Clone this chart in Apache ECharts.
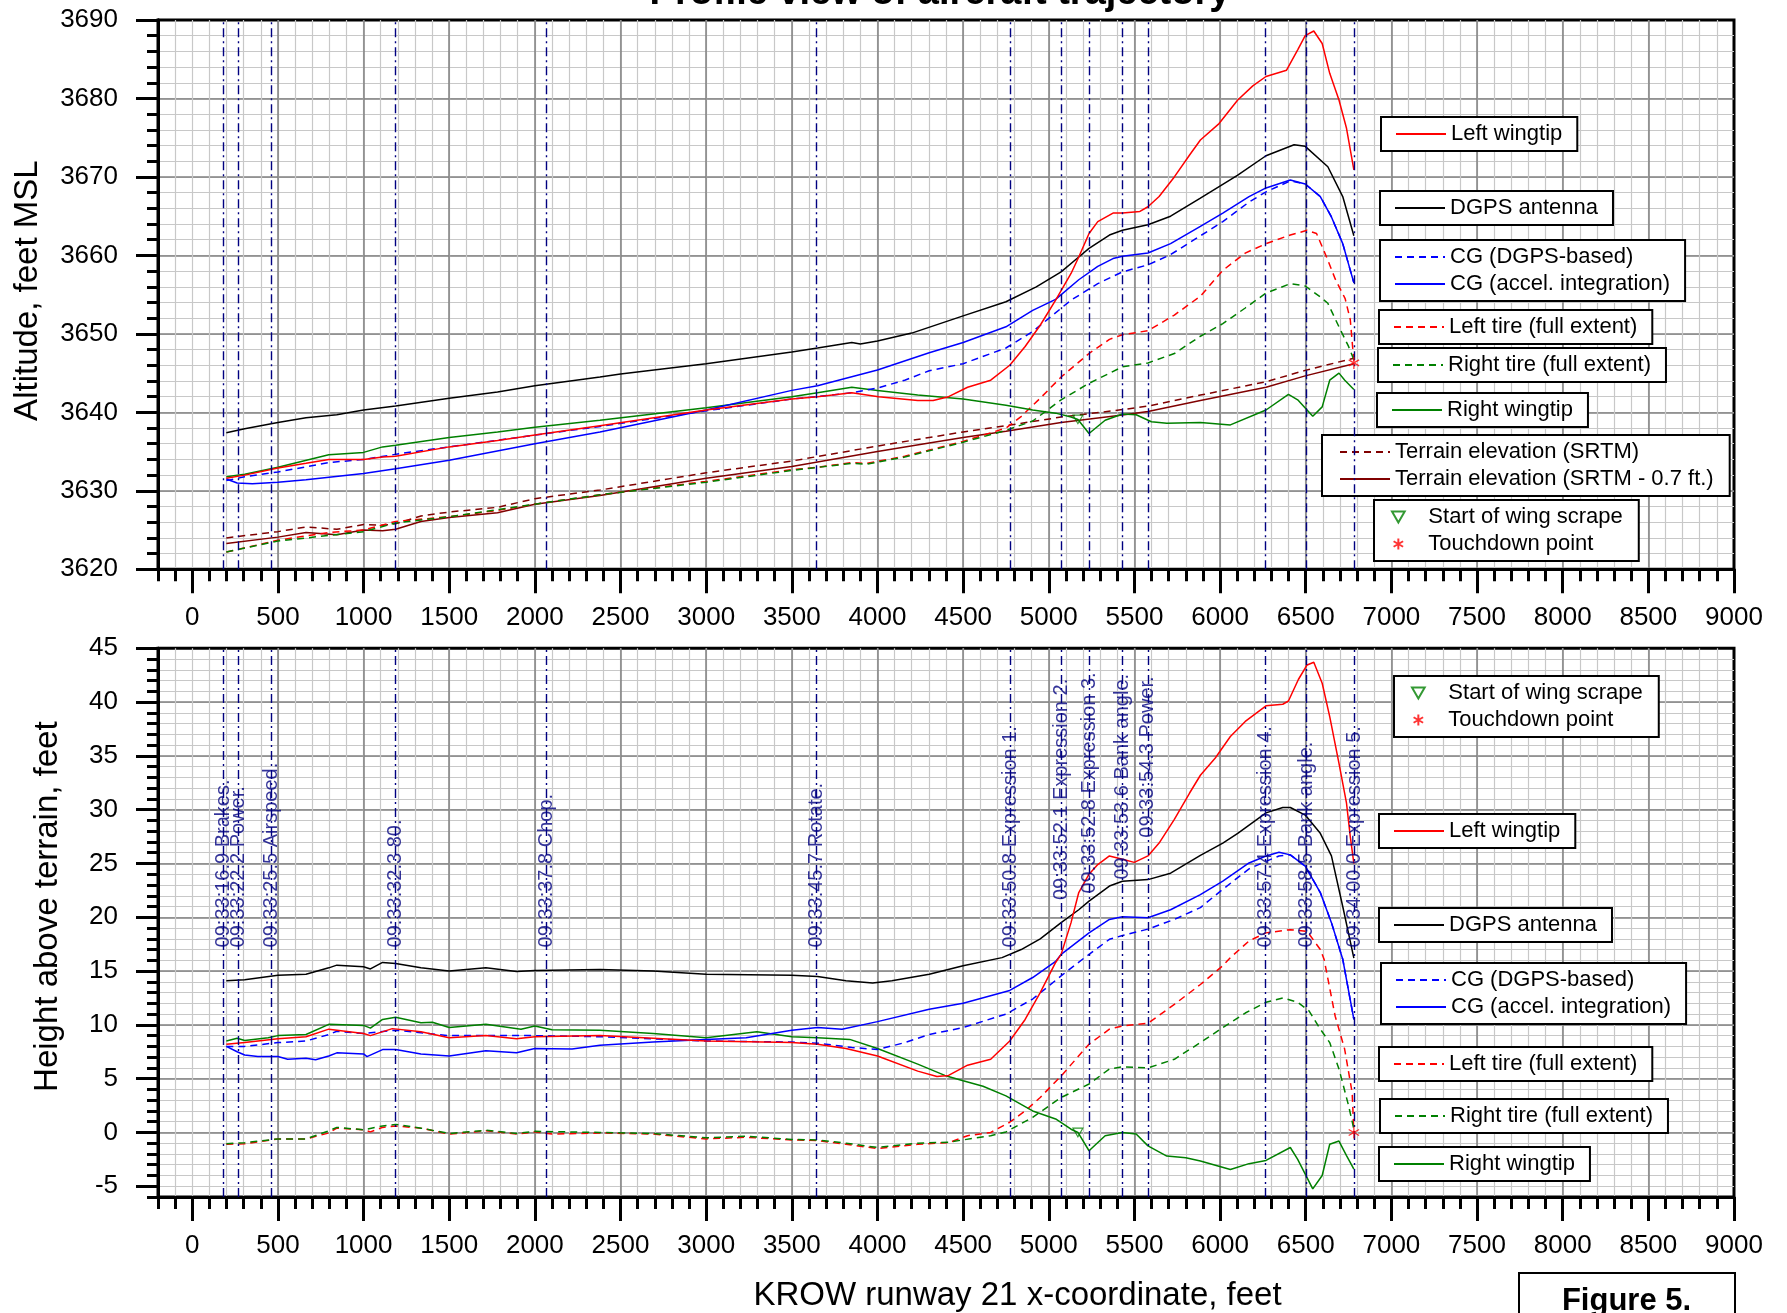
<!DOCTYPE html>
<html>
<head>
<meta charset="utf-8">
<title>Profile view of aircraft trajectory</title>
<script src="https://cdn.jsdelivr.net/npm/echarts@6/dist/echarts.min.js"></script>
<style>
  html, body { margin: 0; padding: 0; background: #fff; }
  #chart { width: 1787px; height: 1313px; }
</style>
</head>
<body>
<div id="chart"></div>
<script>
// ---------- tick values ----------
const xMajorTicks = [0, 500, 1000, 1500, 2000, 2500, 3000, 3500, 4000, 4500, 5000, 5500, 6000, 6500, 7000, 7500, 8000, 8500, 9000];
const heightMajorTicks = [-5, 0, 5, 10, 15, 20, 25, 30, 35, 40, 45];

// ---------- upper panel: altitude, feet MSL  ([x-coordinate ft, altitude ft]) ----------
const topLeftWingtip = [[199,3631.6],[306,3632.0],[500,3632.9],[664,3633.5],[797,3634.0],[1000,3634.0],[1111,3634.3],[1187,3634.4],[1500,3635.6],[1782,3636.4],[2000,3637.1],[2380,3638.3],[3000,3640.3],[3500,3641.7],[3650,3642.0],[3850,3642.5],[4006,3642.0],[4235,3641.5],[4325,3641.5],[4415,3642.0],[4526,3643.2],[4661,3644.1],[4772,3646.0],[4862,3648.4],[4950,3651.1],[5040,3654.3],[5130,3657.7],[5175,3659.8],[5235,3662.8],[5286,3664.3],[5375,3665.4],[5430,3665.4],[5532,3665.6],[5579,3666.2],[5644,3667.5],[5733,3670.0],[5822,3672.8],[5885,3674.7],[5994,3676.8],[6103,3679.8],[6191,3681.6],[6268,3682.8],[6388,3683.6],[6453,3686.2],[6497,3688.0],[6547,3688.6],[6596,3687.0],[6640,3683.2],[6694,3679.8],[6738,3676.2],[6781,3670.9]];
const topDgps = [[199,3637.4],[306,3637.9],[500,3638.7],[664,3639.3],[844,3639.7],[1000,3640.3],[1187,3640.8],[1500,3641.8],[1782,3642.6],[2000,3643.4],[2380,3644.5],[2500,3644.9],[3000,3646.2],[3500,3647.7],[3650,3648.2],[3850,3648.9],[3900,3648.7],[4000,3649.1],[4200,3650.1],[4500,3652.3],[4750,3654.1],[4927,3656.0],[5072,3657.9],[5175,3659.8],[5235,3660.9],[5354,3662.6],[5430,3663.2],[5579,3663.9],[5711,3665.0],[5885,3667.3],[6101,3670.2],[6268,3672.7],[6432,3674.1],[6497,3673.9],[6629,3671.3],[6716,3667.5],[6781,3662.5]];
const topCgDgps = [[199,3631.3],[306,3631.8],[500,3632.4],[797,3633.6],[1000,3634.0],[1230,3634.8],[1500,3635.6],[2000,3637.1],[2380,3638.2],[3000,3640.2],[3500,3641.7],[3650,3642.0],[3850,3642.5],[4000,3643.1],[4159,3644.1],[4302,3645.3],[4500,3646.2],[4750,3648.2],[4906,3650.3],[5130,3654.3],[5286,3656.4],[5430,3657.9],[5579,3658.8],[5711,3660.1],[5885,3662.5],[6016,3664.3],[6169,3666.8],[6268,3668.1],[6410,3669.5],[6497,3669.1],[6585,3667.5],[6650,3664.9],[6716,3661.5],[6781,3656.5]];
const topCgAccel = [[199,3631.5],[262,3631.0],[351,3630.9],[500,3631.1],[664,3631.4],[1000,3632.2],[1187,3632.8],[1500,3633.9],[2000,3636.0],[2380,3637.5],[3000,3640.3],[3500,3642.8],[3650,3643.4],[4000,3645.4],[4302,3647.6],[4500,3648.9],[4750,3650.9],[4906,3653.0],[5040,3654.4],[5175,3656.9],[5286,3658.6],[5375,3659.6],[5430,3659.9],[5579,3660.3],[5711,3661.5],[5885,3663.7],[6016,3665.4],[6169,3667.5],[6268,3668.6],[6410,3669.6],[6497,3669.1],[6585,3667.5],[6650,3664.9],[6716,3661.5],[6781,3656.5]];
const topLeftTire = [[199,3622.2],[500,3623.7],[797,3624.7],[1000,3625.0],[1187,3626.1],[1500,3626.7],[1782,3627.5],[2000,3628.3],[2380,3629.5],[3000,3631.2],[3500,3632.7],[3650,3633.0],[3850,3633.6],[3938,3633.5],[4159,3634.4],[4302,3635.2],[4500,3636.3],[4750,3638.0],[4840,3639.5],[4950,3641.8],[5072,3644.5],[5235,3647.5],[5354,3649.3],[5430,3649.9],[5579,3650.4],[5733,3652.4],[5885,3654.8],[6016,3658.1],[6147,3660.3],[6268,3661.5],[6410,3662.6],[6508,3663.2],[6563,3662.8],[6629,3659.4],[6672,3657.0],[6730,3654.5],[6760,3651.8],[6781,3646.5]];
const topRightTire = [[199,3622.2],[500,3623.6],[1000,3624.8],[1187,3625.9],[1500,3626.7],[2000,3628.3],[2380,3629.5],[3000,3631.1],[3500,3632.6],[3850,3633.5],[3938,3633.4],[4159,3634.3],[4500,3636.2],[4750,3637.7],[4906,3638.9],[5072,3641.6],[5235,3643.7],[5430,3645.8],[5579,3646.3],[5733,3647.5],[5885,3649.7],[6016,3651.3],[6147,3653.3],[6268,3655.2],[6410,3656.4],[6497,3656.1],[6585,3654.7],[6629,3653.9],[6694,3650.9],[6750,3648.4],[6781,3646.7]];
const topRightWingtip = [[199,3631.8],[306,3632.1],[500,3633.0],[797,3634.6],[1000,3634.9],[1111,3635.6],[1187,3635.8],[1500,3636.8],[1782,3637.5],[2000,3638.1],[2380,3639.0],[3000,3640.6],[3500,3642.0],[3650,3642.5],[3850,3643.2],[4000,3642.8],[4235,3642.2],[4500,3641.7],[4750,3640.9],[4906,3640.3],[5040,3639.9],[5130,3639.4],[5170,3639.1],[5235,3637.3],[5329,3639.0],[5430,3639.8],[5510,3639.7],[5599,3638.8],[5689,3638.6],[5885,3638.7],[6060,3638.4],[6268,3640.3],[6399,3642.3],[6453,3641.6],[6541,3639.5],[6596,3640.7],[6640,3644.1],[6694,3645.0],[6728,3644.1],[6781,3642.9]];
const topTerrain = [[199,3624.0],[500,3624.8],[664,3625.4],[844,3625.1],[1000,3625.7],[1111,3625.6],[1187,3625.8],[1335,3626.8],[1500,3627.3],[1782,3627.9],[2000,3629.0],[2380,3630.1],[3000,3632.3],[3500,3633.8],[4000,3635.7],[4302,3636.8],[4500,3637.5],[4750,3638.3],[5072,3639.4],[5430,3640.35],[5579,3640.8],[5885,3642.2],[6268,3643.9],[6497,3645.35],[6781,3646.9]];
const topTerrainLow = [[199,3623.3],[500,3624.1],[664,3624.7],[844,3624.4],[1000,3625.0],[1111,3624.9],[1187,3625.1],[1335,3626.1],[1500,3626.6],[1782,3627.2],[2000,3628.3],[2380,3629.4],[3000,3631.6],[3500,3633.1],[4000,3635.0],[4302,3636.1],[4500,3636.8],[4750,3637.6],[5072,3638.7],[5430,3639.65],[5579,3640.1],[5885,3641.5],[6268,3643.2],[6497,3644.65],[6781,3646.2]];
const topScrape = [[5170, 3639.1]];
const topTouchdown = [[6781, 3646.3]];

// ---------- lower panel: height above terrain, feet ----------
const botLeftWingtip = [[199,8.2],[306,8.35],[500,8.7],[664,8.9],[797,9.6],[1000,9.2],[1040,9.0],[1168,9.65],[1335,9.35],[1500,8.8],[1714,9.0],[1893,8.7],[2000,8.9],[2380,9.0],[3000,8.5],[3500,8.35],[3650,8.2],[3816,7.8],[4000,7.1],[4235,5.7],[4347,5.2],[4415,5.3],[4526,6.25],[4661,6.8],[4772,8.5],[4862,10.5],[4950,13.0],[5040,15.8],[5072,16.55],[5130,19.5],[5175,22.3],[5235,24.0],[5286,24.9],[5354,25.7],[5430,25.4],[5499,25.1],[5579,25.7],[5644,26.9],[5733,29.1],[5822,31.55],[5885,33.2],[5972,34.8],[6060,36.8],[6147,38.2],[6268,39.65],[6366,39.8],[6399,40.1],[6457,42.1],[6508,43.45],[6547,43.7],[6596,41.75],[6640,38.65],[6694,34.3],[6738,30.6],[6760,27.5],[6781,25.0]];
const botDgps = [[199,14.1],[306,14.2],[500,14.6],[664,14.7],[797,15.3],[844,15.55],[1000,15.4],[1040,15.2],[1111,15.8],[1187,15.7],[1335,15.3],[1500,15.0],[1714,15.3],[1893,14.95],[2000,15.05],[2380,15.15],[2690,15.0],[3000,14.7],[3500,14.6],[3650,14.5],[3816,14.1],[3972,13.9],[4084,14.1],[4302,14.7],[4500,15.5],[4727,16.25],[4839,17.0],[4950,18.0],[5072,19.5],[5175,20.7],[5235,21.5],[5354,22.9],[5430,23.35],[5579,23.5],[5711,24.1],[5885,25.75],[6016,26.9],[6103,27.8],[6268,29.7],[6366,30.2],[6410,30.2],[6497,29.5],[6585,27.8],[6650,25.7],[6716,21.0],[6781,16.2]];
const botCgDgps = [[199,8.0],[306,8.0],[500,8.35],[664,8.5],[797,9.1],[844,9.4],[1000,9.2],[1187,9.5],[1500,9.0],[2000,9.0],[2380,8.9],[3000,8.5],[3500,8.4],[3650,8.3],[3850,7.9],[4000,7.7],[4159,8.35],[4302,9.1],[4500,9.75],[4750,11.0],[4906,12.4],[5072,14.55],[5197,16.1],[5235,16.55],[5354,17.95],[5430,18.3],[5579,18.9],[5733,19.8],[5885,20.9],[6016,22.6],[6169,24.5],[6268,25.2],[6344,25.7],[6410,25.8],[6497,24.75],[6585,22.3],[6650,19.5],[6716,16.1],[6738,14.2],[6781,10.5]];
const botCgAccel = [[199,8.0],[262,7.5],[306,7.2],[383,7.05],[500,7.05],[557,6.8],[664,6.9],[720,6.75],[797,7.1],[844,7.4],[1000,7.3],[1020,7.05],[1111,7.7],[1187,7.7],[1335,7.3],[1500,7.1],[1714,7.6],[1893,7.4],[2000,7.8],[2217,7.75],[2380,8.1],[2690,8.4],[3000,8.65],[3233,8.8],[3500,9.5],[3650,9.75],[3793,9.6],[4000,10.3],[4302,11.45],[4500,12.0],[4772,13.2],[4906,14.4],[5040,15.9],[5072,16.55],[5235,18.55],[5354,19.8],[5430,20.05],[5579,19.95],[5711,20.7],[5885,22.1],[6016,23.35],[6169,25.05],[6268,25.7],[6344,26.05],[6410,25.8],[6497,24.75],[6585,22.3],[6650,19.5],[6716,16.1],[6738,14.2],[6781,10.5]];
const botLeftTire = [[199,-1.1],[306,-1.05],[500,-0.6],[664,-0.6],[797,-0.05],[844,0.4],[1000,0.25],[1040,0.05],[1111,0.47],[1187,0.6],[1335,0.4],[1500,-0.15],[1714,0.15],[1893,-0.15],[2000,0.05],[2100,-0.15],[2380,-0.05],[2690,-0.15],[3000,-0.6],[3233,-0.45],[3500,-0.7],[3650,-0.75],[3816,-1.1],[4000,-1.5],[4235,-1.1],[4415,-0.95],[4526,-0.3],[4661,0.0],[4772,0.95],[4862,2.0],[4950,3.25],[5072,5.25],[5235,8.2],[5354,9.6],[5430,9.9],[5579,10.15],[5733,11.9],[5885,13.75],[6016,15.5],[6060,16.25],[6169,17.8],[6268,18.55],[6410,18.85],[6508,18.7],[6585,17.0],[6607,16.1],[6672,10.8],[6727,7.75],[6771,3.7],[6781,0.0]];
const botRightTire = [[199,-1.05],[306,-0.95],[500,-0.6],[664,-0.6],[797,0.15],[844,0.47],[1000,0.25],[1111,0.6],[1187,0.75],[1335,0.4],[1500,-0.1],[1714,0.2],[1893,-0.1],[2000,0.1],[2380,0.0],[2690,-0.1],[3000,-0.5],[3233,-0.35],[3500,-0.65],[3650,-0.7],[3816,-1.0],[4000,-1.4],[4235,-1.0],[4415,-0.9],[4661,-0.3],[4750,0.05],[4906,1.4],[5072,3.25],[5235,4.5],[5354,5.9],[5430,6.1],[5579,6.0],[5733,6.8],[5885,8.35],[6016,9.75],[6147,11.1],[6268,12.1],[6366,12.5],[6453,12.1],[6519,11.3],[6585,9.6],[6640,8.35],[6694,5.9],[6750,2.5],[6781,0.3]];
const botRightWingtip = [[199,8.5],[262,8.75],[306,8.55],[443,8.8],[500,9.0],[664,9.1],[797,10.05],[1000,9.95],[1040,9.7],[1111,10.5],[1187,10.7],[1335,10.2],[1402,10.25],[1500,9.75],[1714,10.05],[1919,9.6],[2000,9.9],[2100,9.55],[2380,9.5],[2690,9.2],[3000,8.8],[3296,9.35],[3500,8.9],[3650,8.8],[3838,8.65],[4000,7.8],[4235,6.35],[4393,5.3],[4500,4.8],[4616,4.3],[4750,3.4],[4906,2.0],[5040,1.25],[5130,0.3],[5170,0.0],[5235,-1.7],[5329,-0.3],[5430,0.0],[5510,-0.15],[5579,-1.25],[5689,-2.2],[5800,-2.35],[5885,-2.65],[6060,-3.45],[6169,-2.9],[6268,-2.6],[6410,-1.4],[6453,-2.5],[6541,-5.25],[6596,-4.0],[6640,-1.1],[6694,-0.8],[6738,-2.15],[6781,-3.4]];
const botScrape = [[5170, 0.0]];
const botTouchdown = [[6781, 0.0]];

// ---------- cockpit / flight events ----------
const eventX = [181, 268, 464, 1187, 2065, 3645, 4777, 5072, 5235, 5430, 5579, 6265, 6502, 6782];
const eventTimes = ['09:33:16.9', '09:33:22.2', '09:33:25.5', '09:33:32.3', '09:33:37.8', '09:33:45.7', '09:33:50.8', '09:33:52.1', '09:33:52.8', '09:33:53.6', '09:33:54.3', '09:33:57.4', '09:33:58.5', '09:34:00.0'];
const eventNotes = ['Brakes.', 'Power.', 'Airspeed.', '80.', 'Chop.', 'Rotate.', 'Expression 1.', 'Expression 2.', 'Expression 3.', 'Bank angle.', 'Power.', 'Expression 4.', 'Bank angle.', 'Expression 5.'];
const eventLabelBase = [17.2, 17.2, 17.2, 17.2, 17.2, 17.2, 17.2, 21.6, 22.2, 23.5, 27.4, 17.2, 17.2, 17.2];

// ---------- styling ----------
const FONT = '"Liberation Sans", Arial, Helvetica, sans-serif';
const RED = '#ff0000', BLUE = '#0000ff', GREEN = '#008000', BLACK = '#000000', TERRAIN = '#800000', NAVY = '#000080';
const DASH = [7, 5];
const EVENT_DASH = [9, 4, 2, 4];
const ASTERISK = 'path://M5,0L5,10M0.67,2.5L9.33,7.5M0.67,7.5L9.33,2.5';
const DOWN_TRIANGLE = 'path://M0,0L10,0L5,8.66Z';
const plainNumber = v => String(v);

function lineSeries(name, data, color, dashed, panel) {
  return {
    name, type: 'line', data,
    xAxisIndex: panel * 2, yAxisIndex: panel * 2,
    symbol: 'none', showSymbol: false, silent: true, z: 3,
    lineStyle: { color, width: 1.5, type: dashed ? DASH : 'solid' },
    itemStyle: { color }
  };
}

function markerSeries(name, data, panel, kind) {
  const touchdown = kind === 'touchdown';
  return {
    name, type: 'scatter', data,
    xAxisIndex: panel * 2, yAxisIndex: panel * 2, z: 5, silent: true,
    symbol: touchdown ? ASTERISK : DOWN_TRIANGLE,
    symbolSize: touchdown ? 12 : 10,
    symbolKeepAspect: true,
    itemStyle: {
      color: 'rgba(0,0,0,0)',
      borderColor: touchdown ? RED : GREEN,
      borderWidth: touchdown ? 1.3 : 1.1
    }
  };
}

function eventMarkLine() {
  return {
    silent: true, symbol: ['none', 'none'], animation: false,
    label: { show: false },
    lineStyle: { color: NAVY, width: 1.4, type: EVENT_DASH },
    data: eventX.map(x => ({ xAxis: x }))
  };
}

function xAxesFor(panel) {
  return [
    { gridIndex: panel, type: 'value', position: 'bottom', min: -200, max: 9000, interval: 100,
      axisLine: { show: true, onZero: false, lineStyle: { color: BLACK, width: 3 } },
      axisTick: { show: true, length: 12, lineStyle: { color: BLACK, width: 3 } },
      axisLabel: { show: false },
      splitLine: { show: true, showMinLine: false, showMaxLine: false, lineStyle: { color: '#c8c8c8', width: 1.2 } } },
    { gridIndex: panel, type: 'value', position: 'bottom', min: -200, max: 9000,
      axisLine: { show: true, onZero: false, lineStyle: { color: BLACK, width: 3 } },
      axisTick: { show: true, length: 24, customValues: xMajorTicks, lineStyle: { color: BLACK, width: 3 } },
      axisLabel: { show: true, customValues: xMajorTicks, formatter: plainNumber, margin: 36, fontSize: 26, color: BLACK, fontFamily: FONT },
      splitLine: { show: true, showMinLine: false, showMaxLine: false, lineStyle: { color: '#808080', width: 1.5 } },
      name: panel === 1 ? 'KROW runway 21 x-coordinate, feet' : '',
      nameLocation: 'middle', nameGap: 82,
      nameTextStyle: { fontSize: 33, color: BLACK, fontFamily: FONT, padding: [0, 0, 0, 143] } }
  ];
}

const yAxes = [
  // upper panel
  { gridIndex: 0, type: 'value', position: 'left', min: 3620, max: 3690, interval: 2,
    axisLine: { show: true, onZero: false, lineStyle: { color: BLACK, width: 3 } },
    axisTick: { show: true, length: 11, lineStyle: { color: BLACK, width: 3 } },
    axisLabel: { show: false },
    splitLine: { show: true, showMinLine: false, showMaxLine: false, lineStyle: { color: '#c8c8c8', width: 1.2 } } },
  { gridIndex: 0, type: 'value', position: 'left', min: 3620, max: 3690, interval: 10,
    axisLine: { show: true, onZero: false, lineStyle: { color: BLACK, width: 3 } },
    axisTick: { show: true, length: 22, lineStyle: { color: BLACK, width: 3 } },
    axisLabel: { show: true, formatter: plainNumber, margin: 40, fontSize: 26, color: BLACK, fontFamily: FONT },
    splitLine: { show: true, showMinLine: false, showMaxLine: false, lineStyle: { color: '#808080', width: 1.5 } },
    name: 'Altitude, feet MSL', nameLocation: 'middle', nameGap: 114,
    nameTextStyle: { fontSize: 33, color: BLACK, fontFamily: FONT, padding: [0, 0, 0, 8] } },
  // lower panel
  { gridIndex: 1, type: 'value', position: 'left', min: -6, max: 45, interval: 1,
    axisLine: { show: true, onZero: false, lineStyle: { color: BLACK, width: 3 } },
    axisTick: { show: true, length: 11, lineStyle: { color: BLACK, width: 3 } },
    axisLabel: { show: false },
    splitLine: { show: true, showMinLine: false, showMaxLine: false, lineStyle: { color: '#c8c8c8', width: 1.2 } } },
  { gridIndex: 1, type: 'value', position: 'left', min: -6, max: 45,
    axisLine: { show: true, onZero: false, lineStyle: { color: BLACK, width: 3 } },
    axisTick: { show: true, length: 22, customValues: heightMajorTicks, lineStyle: { color: BLACK, width: 3 } },
    axisLabel: { show: true, customValues: heightMajorTicks, formatter: plainNumber, margin: 40, fontSize: 26, color: BLACK, fontFamily: FONT },
    splitLine: { show: true, showMinLine: false, showMaxLine: false, lineStyle: { color: '#808080', width: 1.5 } },
    name: 'Height above terrain, feet', nameLocation: 'middle', nameGap: 94,
    nameTextStyle: { fontSize: 33, color: BLACK, fontFamily: FONT, padding: [0, 0, 0, 32] } }
];

// one bordered legend box per group of entries
function legendBox(names, left, top, markers) {
  const box = {
    show: true, orient: 'vertical', left, top, data: names, selectedMode: false,
    itemWidth: 50, itemHeight: 14, itemGap: 5, padding: [6, 15, 6, 14],
    borderColor: BLACK, borderWidth: 2, borderRadius: 0, backgroundColor: '#ffffff',
    textStyle: { fontSize: 22, color: BLACK, fontFamily: FONT }
  };
  if (markers) {
    box.itemHeight = 11;
    box.padding = [6, 16, 6, 17];
  } else {
    // line samples only, no point symbol in the key
    box.itemStyle = { opacity: 0, color: 'rgba(0,0,0,0)', borderColor: 'rgba(0,0,0,0)', borderWidth: 0 };
  }
  return box;
}

const legends = [
  // upper panel
  legendBox(['Left wingtip'], 1381, 117),
  legendBox(['DGPS antenna'], 1380, 191),
  legendBox(['CG (DGPS-based)', 'CG (accel. integration)'], 1380, 240),
  legendBox(['Left tire (full extent)'], 1379, 310),
  legendBox(['Right tire (full extent)'], 1378, 348),
  legendBox(['Right wingtip'], 1377, 393),
  Object.assign(legendBox(['Terrain elevation (SRTM)', 'Terrain elevation (SRTM - 0.7 ft.)'], 1322, 435), { padding: [6, 16, 6, 17] }),
  legendBox(['Start of wing scrape', 'Touchdown point'], 1374, 500, true),
  // lower panel
  legendBox(['Start of wing scrape', 'Touchdown point'], 1394, 676, true),
  legendBox(['Left wingtip'], 1379, 814),
  legendBox(['DGPS antenna'], 1379, 908),
  legendBox(['CG (DGPS-based)', 'CG (accel. integration)'], 1381, 963),
  legendBox(['Left tire (full extent)'], 1379, 1047),
  legendBox(['Right tire (full extent)'], 1380, 1099),
  legendBox(['Right wingtip'], 1379, 1147)
];

const series = [
  // upper panel
  lineSeries('Terrain elevation (SRTM)', topTerrain, TERRAIN, true, 0),
  lineSeries('Terrain elevation (SRTM - 0.7 ft.)', topTerrainLow, TERRAIN, false, 0),
  lineSeries('Left tire (full extent)', topLeftTire, RED, true, 0),
  lineSeries('Right tire (full extent)', topRightTire, GREEN, true, 0),
  lineSeries('Right wingtip', topRightWingtip, GREEN, false, 0),
  lineSeries('CG (DGPS-based)', topCgDgps, BLUE, true, 0),
  lineSeries('CG (accel. integration)', topCgAccel, BLUE, false, 0),
  lineSeries('DGPS antenna', topDgps, BLACK, false, 0),
  lineSeries('Left wingtip', topLeftWingtip, RED, false, 0),
  markerSeries('Start of wing scrape', topScrape, 0, 'scrape'),
  markerSeries('Touchdown point', topTouchdown, 0, 'touchdown'),
  { name: 'Events (upper)', type: 'scatter', xAxisIndex: 0, yAxisIndex: 0, data: [], silent: true, z: 6,
    markLine: eventMarkLine() },
  // lower panel
  lineSeries('Left tire (full extent)', botLeftTire, RED, true, 1),
  lineSeries('Right tire (full extent)', botRightTire, GREEN, true, 1),
  lineSeries('Right wingtip', botRightWingtip, GREEN, false, 1),
  lineSeries('CG (DGPS-based)', botCgDgps, BLUE, true, 1),
  lineSeries('CG (accel. integration)', botCgAccel, BLUE, false, 1),
  lineSeries('DGPS antenna', botDgps, BLACK, false, 1),
  lineSeries('Left wingtip', botLeftWingtip, RED, false, 1),
  markerSeries('Start of wing scrape', botScrape, 1, 'scrape'),
  markerSeries('Touchdown point', botTouchdown, 1, 'touchdown'),
  { name: 'Events (lower)', type: 'scatter', xAxisIndex: 2, yAxisIndex: 2, silent: true, z: 4,
    data: eventX.map((x, i) => [x, eventLabelBase[i], eventTimes[i] + ' ' + eventNotes[i]]),
    symbolSize: 1, itemStyle: { color: 'rgba(0,0,0,0)' },
    label: {
      show: true, position: 'inside', rotate: 90, align: 'left', verticalAlign: 'middle',
      formatter: p => p.value[2], fontSize: 20, color: NAVY, fontFamily: FONT
    },
    markLine: eventMarkLine() }
];

const chart = echarts.init(document.getElementById('chart'), null, { renderer: 'canvas' });
chart.setOption({
  backgroundColor: '#ffffff',
  animation: false,
  textStyle: { fontFamily: FONT },
  grid: [
    { left: 158, top: 20, width: 1576, height: 549.3, show: true, borderColor: BLACK, borderWidth: 3, backgroundColor: 'rgba(0,0,0,0)' },
    { left: 158, top: 648.3, width: 1576, height: 550, show: true, borderColor: BLACK, borderWidth: 3, backgroundColor: 'rgba(0,0,0,0)' }
  ],
  xAxis: xAxesFor(0).concat(xAxesFor(1)),
  yAxis: yAxes,
  legend: legends,
  series,
  graphic: [
    { type: 'text', x: 940, y: -6, silent: true,
      style: { text: 'Profile view of aircraft trajectory', fontSize: 38, fontWeight: 'bold', fontFamily: FONT,
               fill: BLACK, align: 'center', verticalAlign: 'middle' } },
    { type: 'rect', shape: { x: 1519, y: 1273, width: 216, height: 80 }, silent: true,
      style: { fill: '#ffffff', stroke: BLACK, lineWidth: 2 } },
    { type: 'text', x: 1626.5, y: 1301.5, silent: true,
      style: { text: 'Figure 5.', fontSize: 31, fontWeight: 'bold', fontFamily: FONT,
               fill: BLACK, align: 'center', verticalAlign: 'middle' } }
  ]
});
</script>
</body>
</html>
